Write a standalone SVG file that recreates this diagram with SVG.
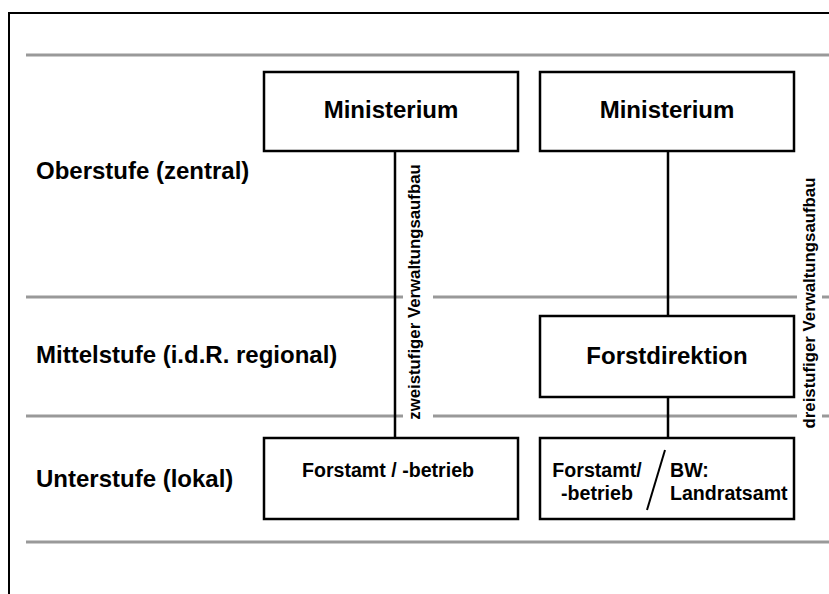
<svg xmlns="http://www.w3.org/2000/svg" width="829" height="594" viewBox="0 0 829 594">
<style>
text{font-family:"Liberation Sans",Arial,sans-serif;font-weight:bold;fill:#000}
.band{stroke:#999;stroke-width:3;fill:none}
.box{fill:#fff;stroke:#000;stroke-width:2.5}
.conn{stroke:#000;stroke-width:2.5;fill:none}
.lvl{font-size:24px}
.big{font-size:24px;text-anchor:middle}
.sm{font-size:19.6px}
.vt{font-size:16.8px;text-anchor:middle}
</style>
<rect width="829" height="594" fill="#fff"/>
<g id="frame"><path d="M9,594 V13 H829" fill="none" stroke="#000" stroke-width="2"/></g>
<g id="bands">
<line class="band" x1="26" y1="55" x2="829" y2="55"/>
<line class="band" x1="26" y1="297" x2="829" y2="297"/>
<line class="band" x1="26" y1="416" x2="829" y2="416"/>
<line class="band" x1="26" y1="542" x2="829" y2="542"/>
</g>
<g id="levels">
<text class="lvl" x="36" y="179">Oberstufe (zentral)</text>
<text class="lvl" x="36" y="363">Mittelstufe (i.d.R. regional)</text>
<text class="lvl" x="36" y="487">Unterstufe (lokal)</text>
</g>
<g id="connectors">
<line class="conn" x1="395" y1="151" x2="395" y2="438"/>
<line class="conn" x1="668" y1="151" x2="668" y2="316"/>
<line class="conn" x1="668" y1="397" x2="668" y2="438"/>
</g>
<g id="label-zweistufig">
<rect x="403" y="160" width="30" height="265" fill="#fff"/>
<text class="vt" transform="translate(420,292) rotate(-90)">zweistufiger Verwaltungsaufbau</text>
</g>
<g id="label-dreistufig">
<rect x="797" y="175" width="25" height="258" fill="#fff"/>
<text class="vt" transform="translate(815,303) rotate(-90)">dreistufiger Verwaltungsaufbau</text>
</g>
<g id="ministerium-1">
<rect class="box" x="264" y="72" width="254" height="79"/>
<text class="big" x="391" y="118">Ministerium</text>
</g>
<g id="ministerium-2">
<rect class="box" x="540" y="72" width="254" height="79"/>
<text class="big" x="667" y="118">Ministerium</text>
</g>
<g id="forstdirektion">
<rect class="box" x="540" y="316" width="254" height="81"/>
<text class="big" x="667" y="364">Forstdirektion</text>
</g>
<g id="forstamt-1">
<rect class="box" x="264" y="438" width="254" height="81"/>
<text class="sm" x="388" y="477" text-anchor="middle">Forstamt / -betrieb</text>
</g>
<g id="forstamt-2">
<rect class="box" x="540" y="438" width="254" height="81"/>
<text class="sm" x="597" y="477" text-anchor="middle">Forstamt/</text>
<text class="sm" x="597" y="500" text-anchor="middle">-betrieb</text>
<line x1="665" y1="450" x2="647" y2="510" stroke="#000" stroke-width="2"/>
<text class="sm" x="670" y="477">BW:</text>
<text class="sm" x="670" y="500">Landratsamt</text>
</g>
</svg>
